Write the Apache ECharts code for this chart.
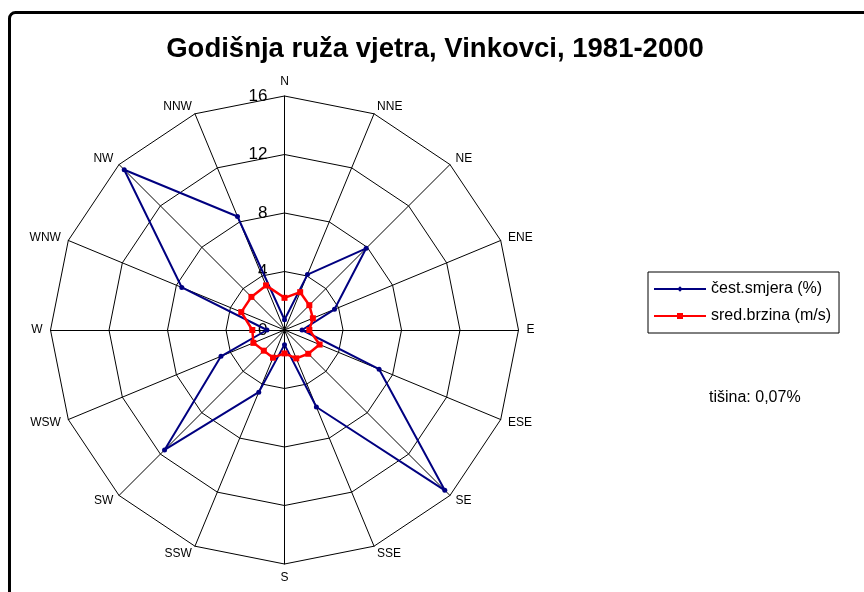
<!DOCTYPE html>
<html>
<head>
<meta charset="utf-8">
<script src="https://cdn.jsdelivr.net/npm/echarts@6/dist/echarts.min.js"></script>
<style>
  html, body { margin: 0; padding: 0; background: #fff; }
  #chart { width: 864px; height: 592px; }
</style>
</head>
<body>
<div id="chart"></div>
<script>
// smjerovi u kompasnom redu (N pa u smjeru kazaljke)
const directions = ['N', 'NNE', 'NE', 'ENE', 'E', 'ESE', 'SE', 'SSE', 'S', 'SSW', 'SW', 'WSW', 'W', 'WNW', 'NW', 'NNW']
const frequency = [0.7, 4.1, 7.9, 3.7, 1.2, 7.0, 15.5, 5.7, 1.0, 4.6, 11.6, 4.7, 1.2, 7.6, 15.5, 8.4]
const speed = [2.2, 2.8, 2.4, 2.1, 1.7, 2.6, 2.3, 2.1, 1.6, 2.05, 2.0, 2.3, 2.2, 3.2, 3.2, 3.3]
const axisMax = 16
const axisSplit = 4

// radar ide suprotno od kazaljke, pa okrecemo redoslijed
const order = [0].concat(directions.map((d, i) => i).slice(1).reverse())
const pick = arr => order.map(i => arr[i])

const chart = echarts.init(document.getElementById('chart'))

const indicator = pick(directions).map((name, i) => {
  const ind = { name: name, min: 0, max: axisMax }
  if (i === 0) {
    ind.axisLabel = { show: true }
  }
  return ind
})

chart.setOption({
  animation: false,
  title: [
    {
      text: 'Godišnja ruža vjetra, Vinkovci, 1981-2000',
      left: 430,
      top: 30,
      textAlign: 'center',
      textStyle: { fontFamily: 'Liberation Sans', fontSize: 27.5, fontWeight: 'bold', color: '#000' }
    },
    {
      text: 'tišina: 0,07%',
      left: 704,
      top: 385,
      textStyle: { fontFamily: 'Liberation Sans', fontSize: 16, fontWeight: 'normal', color: '#000' }
    }
  ],
  graphic: [
    {
      type: 'rect',
      shape: { x: 9.5, y: 12.5, width: 900, height: 700, r: 6 },
      style: { fill: 'none', stroke: '#000', lineWidth: 3 },
      silent: true
    }
  ],
  legend: {
    orient: 'vertical',
    left: 648,
    top: 272,
    padding: [9, 8, 9, 6],
    itemGap: 11,
    itemWidth: 52,
    itemHeight: 8,
    borderColor: '#000',
    borderWidth: 1,
    textStyle: { fontFamily: 'Liberation Sans', fontSize: 16, color: '#000' },
    data: [
      { name: 'čest.smjera (%)', icon: 'path://M0,3.1 L52,3.1 L52,4.9 L0,4.9 Z M26,1.2 L28.8,4 L26,6.8 L23.2,4 Z' },
      { name: 'sred.brzina (m/s)', icon: 'path://M0,3 L52,3 L52,5 L0,5 Z M23,1 L29,1 L29,7 L23,7 Z' }
    ]
  },
  radar: {
    center: [284.5, 330],
    radius: 234,
    startAngle: 90,
    shape: 'polygon',
    splitNumber: axisMax / axisSplit,
    indicator: indicator,
    axisName: { color: '#000', fontFamily: 'Liberation Sans', fontSize: 12 },
    nameGap: 8,
    axisLine: { lineStyle: { color: '#000', width: 1 } },
    splitLine: { lineStyle: { color: '#000', width: 1 } },
    splitArea: { show: false },
    axisTick: { show: false },
    axisLabel: { show: false, color: '#000', fontFamily: 'Liberation Sans', fontSize: 17, margin: 17 }
  },
  series: [
    {
      type: 'radar',
      symbol: 'circle',
      symbolSize: 5,
      lineStyle: { color: '#000080', width: 2 },
      itemStyle: { color: '#000080' },
      data: [{ name: 'čest.smjera (%)', value: pick(frequency) }],
      z: 3
    },
    {
      type: 'radar',
      symbol: 'rect',
      symbolSize: 6,
      lineStyle: { color: '#ff0000', width: 2.5 },
      itemStyle: { color: '#ff0000' },
      data: [{ name: 'sred.brzina (m/s)', value: pick(speed) }],
      z: 4
    }
  ]
})
</script>
</body>
</html>
